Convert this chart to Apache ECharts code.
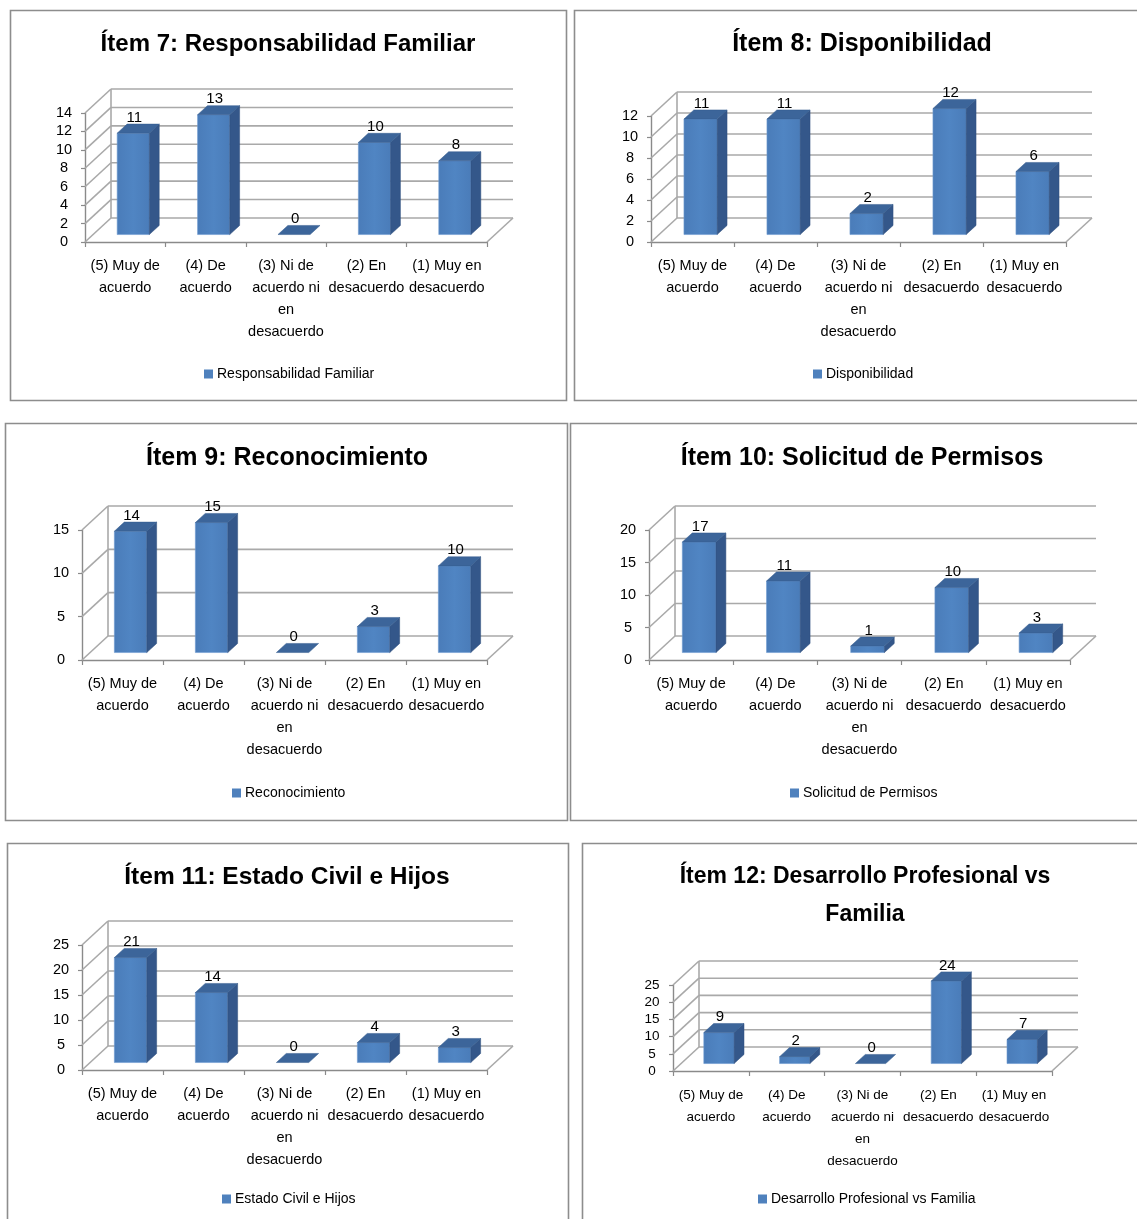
<!DOCTYPE html>
<html>
<head>
<meta charset="utf-8">
<script src="https://cdn.jsdelivr.net/npm/echarts@6/dist/echarts.min.js"></script>
<style>
  html, body { margin: 0; padding: 0; background: #ffffff; }
  #chart { width: 1137px; height: 1219px; }
</style>
</head>
<body>
<div id="chart"></div>
<script>
// ---- Data ----
const categoryLabels = [
  '(5) Muy de\nacuerdo',
  '(4) De\nacuerdo',
  '(3) Ni de\nacuerdo ni\nen\ndesacuerdo',
  '(2) En\ndesacuerdo',
  '(1) Muy en\ndesacuerdo'
];

const chartTitles = [
  'Ítem 7: Responsabilidad Familiar',
  'Ítem 8: Disponibilidad',
  'Ítem 9: Reconocimiento',
  'Ítem 10: Solicitud de Permisos',
  'Ítem 11: Estado Civil e Hijos',
  'Ítem 12: Desarrollo Profesional vs\nFamilia'
];

const seriesNames = [
  'Responsabilidad Familiar',
  'Disponibilidad',
  'Reconocimiento',
  'Solicitud de Permisos',
  'Estado Civil e Hijos',
  'Desarrollo Profesional vs Familia'
];

const responsabilidadFamiliar = [11, 13, 0, 10, 8];
const disponibilidad = [11, 11, 2, 12, 6];
const reconocimiento = [14, 15, 0, 3, 10];
const solicitudPermisos = [17, 11, 1, 10, 3];
const estadoCivilHijos = [21, 14, 0, 4, 3];
const desarrolloProfesional = [9, 2, 0, 24, 7];

const yAxisMax = [14, 12, 15, 20, 25, 25];
const yAxisStep = [2, 2, 5, 5, 5, 5];

const panelValues = [
  responsabilidadFamiliar, disponibilidad, reconocimiento,
  solicitudPermisos, estadoCivilHijos, desarrolloProfesional
];

// ---- Layout (pixels) ----
const panels = [
  { box: [10, 10, 556, 390],   cx: 288, titleY: 44,  titleSize: 24,   axisFont: 14.5, x0: 85,  x1: 487,  yTop: 113, y0: 242,  legendY: 375 },
  { box: [574, 10, 600, 390],  cx: 862, titleY: 44,  titleSize: 25,   axisFont: 14.5, x0: 651, x1: 1066, yTop: 116, y0: 242,  legendY: 375 },
  { box: [5, 423, 562, 397],   cx: 287, titleY: 458, titleSize: 25,   axisFont: 14.5, x0: 82,  x1: 487,  yTop: 530, y0: 660,  legendY: 794 },
  { box: [570, 423, 600, 397], cx: 862, titleY: 458, titleSize: 25,   axisFont: 14.5, x0: 649, x1: 1070, yTop: 530, y0: 660,  legendY: 794 },
  { box: [7, 843, 561, 420],   cx: 287, titleY: 877, titleSize: 24.5, axisFont: 14.5, x0: 82,  x1: 487,  yTop: 945, y0: 1070, legendY: 1200 },
  { box: [582, 843, 600, 420], cx: 865, titleY: 896, titleSize: 23,   axisFont: 13.5, x0: 673, x1: 1052, yTop: 985, y0: 1071, legendY: 1200 }
];

const FONT = '"Liberation Sans", Arial, sans-serif';
const DEPTH_X = 26, DEPTH_Y = 24;            // floor / wall depth
const BAR_FRONT = 0.31, BAR_DEPTH = 0.38;     // bar placement inside the depth
const GRID_COLOR = '#a9a9a9';
const FRONT_COLOR = '#4F81BD', SIDE_COLOR = '#34578A', TOP_COLOR = '#3C659A';

// Back wall, side wall and floor outline of a 3D bar plot
function makeWall(p) {
  return function (params, api) {
    const cs = params.coordSys;
    const x0 = cs.x, x1 = cs.x + cs.width;
    const st = { stroke: GRID_COLOR, lineWidth: 1.6, fill: null };
    const kids = [];
    for (let v = 0; v <= yAxisMax[p] + 1e-9; v += yAxisStep[p]) {
      const y = api.coord([0, v])[1];
      kids.push({ type: 'line', shape: { x1: x0, y1: y, x2: x0 + DEPTH_X, y2: y - DEPTH_Y }, style: st });
      kids.push({ type: 'line', shape: { x1: x0 + DEPTH_X, y1: y - DEPTH_Y, x2: x1 + DEPTH_X, y2: y - DEPTH_Y }, style: st });
    }
    const yb = api.coord([0, 0])[1];
    const yt = api.coord([0, yAxisMax[p]])[1];
    kids.push({ type: 'line', shape: { x1: x0 + DEPTH_X, y1: yb - DEPTH_Y, x2: x0 + DEPTH_X, y2: yt - DEPTH_Y }, style: st });
    kids.push({ type: 'line', shape: { x1: x1, y1: yb, x2: x1 + DEPTH_X, y2: yb - DEPTH_Y }, style: st });
    return { type: 'group', children: kids };
  };
}

// One 3D column: front face, right side, top and its value label
function renderBar(params, api) {
  const i = api.value(0), v = api.value(1);
  const topPt = api.coord([i, v]);
  const basePt = api.coord([i, 0]);
  const band = api.size([1, 0])[0];
  const w = band * 0.4;
  const fx = DEPTH_X * BAR_FRONT, fy = DEPTH_Y * BAR_FRONT;
  const bx = DEPTH_X * BAR_DEPTH, by = DEPTH_Y * BAR_DEPTH;
  const xl = topPt[0] - w / 2 + fx, xr = xl + w;
  const yt = topPt[1] - fy, yb = basePt[1] - fy;
  const kids = [];
  if (yb - yt > 0.5) {
    kids.push({
      type: 'rect', shape: { x: xl, y: yt, width: w, height: yb - yt },
      style: {
        fill: new echarts.graphic.LinearGradient(0, 0, 1, 0, [
          { offset: 0, color: '#4A7CB9' }, { offset: 0.5, color: '#5085C3' }, { offset: 1, color: '#4A7CB9' }
        ]),
        stroke: '#6F9AD0', lineWidth: 0.6
      }
    });
    kids.push({
      type: 'polygon',
      shape: { points: [[xr, yt], [xr + bx, yt - by], [xr + bx, yb - by], [xr, yb]] },
      style: { fill: SIDE_COLOR, stroke: '#2E4F7C', lineWidth: 0.5 }
    });
  }
  kids.push({
    type: 'polygon',
    shape: { points: [[xl, yt], [xl + bx, yt - by], [xr + bx, yt - by], [xr, yt]] },
    style: { fill: TOP_COLOR, stroke: '#345C8E', lineWidth: 0.5 }
  });
  kids.push({
    type: 'text', x: xl + w / 2 + 1, y: yt - by + 1,
    style: {
      text: String(v), font: '15px ' + FONT, fill: '#000000',
      align: 'center', verticalAlign: 'bottom', textAlign: 'center', textVerticalAlign: 'bottom'
    }
  });
  return { type: 'group', children: kids };
}

// Width of the legend text, used to centre each legend on its panel
const measureCtx = document.createElement('canvas').getContext('2d');
function textWidth(str, font) { measureCtx.font = font; return measureCtx.measureText(str).width; }

const grids = [], xAxes = [], yAxes = [], series = [], legends = [], graphics = [];

panels.forEach((pn, p) => {
  graphics.push({
    type: 'rect', silent: true,
    shape: { x: pn.box[0] + 0.5, y: pn.box[1] + 0.5, width: pn.box[2], height: pn.box[3] },
    style: { fill: 'none', stroke: '#8d8d8d', lineWidth: 1.6 }
  });
  graphics.push({
    type: 'text', silent: true, x: pn.cx, y: pn.titleY,
    style: {
      text: chartTitles[p], font: 'bold ' + pn.titleSize + 'px ' + FONT, fill: '#000000', lineHeight: 38,
      align: 'center', verticalAlign: 'middle', textAlign: 'center', textVerticalAlign: 'middle'
    }
  });

  grids.push({ left: pn.x0, top: pn.yTop, width: pn.x1 - pn.x0, height: pn.y0 - pn.yTop, containLabel: false });

  xAxes.push({
    type: 'category', gridIndex: p, data: categoryLabels, boundaryGap: true,
    axisLine: { show: true, lineStyle: { color: '#8a8a8a', width: 1.4 } },
    axisTick: { show: true, length: 5, alignWithLabel: false, lineStyle: { color: '#8a8a8a', width: 1.2 } },
    axisLabel: { interval: 0, margin: 13, color: '#000000', fontFamily: FONT, fontSize: pn.axisFont, lineHeight: 22 },
    splitLine: { show: false }
  });

  yAxes.push({
    type: 'value', gridIndex: p, min: 0, max: yAxisMax[p], interval: yAxisStep[p],
    axisLine: { show: true, lineStyle: { color: '#8a8a8a', width: 1.4 } },
    axisTick: { show: true, length: 4, lineStyle: { color: '#8a8a8a', width: 1.2 } },
    axisLabel: { margin: 21, align: 'center', color: '#000000', fontFamily: FONT, fontSize: pn.axisFont },
    splitLine: { show: false }
  });

  series.push({
    type: 'custom', name: 'pared' + p, xAxisIndex: p, yAxisIndex: p, silent: true, clip: false,
    renderItem: makeWall(p), data: [[0, 0]], z: 1
  });
  series.push({
    type: 'custom', name: seriesNames[p], xAxisIndex: p, yAxisIndex: p, clip: false,
    itemStyle: { color: FRONT_COLOR },
    renderItem: renderBar,
    encode: { x: 0, y: 1 },
    data: panelValues[p].map((v, i) => [i, v]), z: 3
  });

  const legendFont = '14px ' + FONT;
  const lw = 9 + 5 + textWidth(seriesNames[p], legendFont);
  legends.push({
    data: [{ name: seriesNames[p], icon: 'rect' }],
    left: Math.round(pn.cx - lw / 2 + 2), top: pn.legendY - 8,
    itemWidth: 9, itemHeight: 9, padding: 0,
    textStyle: { fontFamily: FONT, fontSize: 14, color: '#000000', padding: [0, 0, 0, -1] },
    selectedMode: false
  });
});

const chart = echarts.init(document.getElementById('chart'), null, { renderer: 'canvas' });
chart.setOption({
  backgroundColor: '#ffffff',
  animation: false,
  grid: grids,
  xAxis: xAxes,
  yAxis: yAxes,
  legend: legends,
  graphic: graphics,
  series: series
});
</script>
</body>
</html>
